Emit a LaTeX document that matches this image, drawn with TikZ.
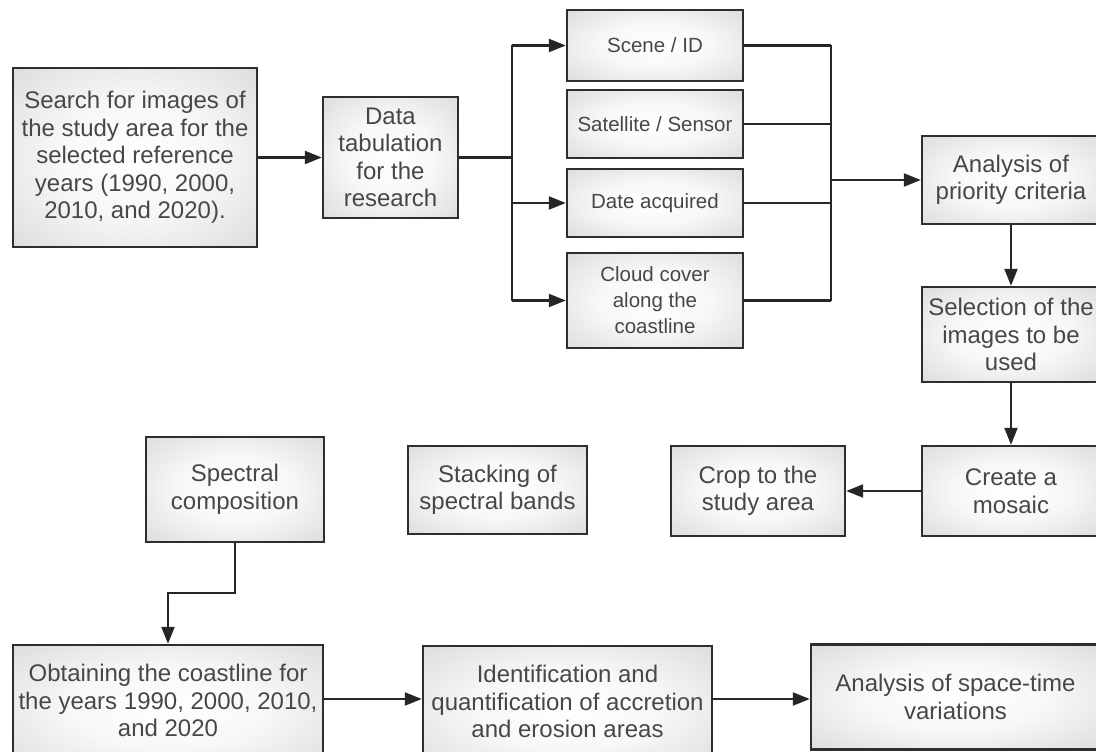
\documentclass[tikz,border=0pt]{standalone}
\usepackage{fontspec}
\setmainfont{Liberation Sans}
\usetikzlibrary{arrows.meta}
\pgfdeclareradialshading{boxshade}{\pgfpoint{0bp}{0bp}}{color(0bp)=(white); color(16bp)=(black!3); color(50bp)=(black!21); color(71bp)=(black!26)}
\tikzset{
  box/.style={draw=black!82, line width=2.4pt, shading=boxshade, align=center,
    text=black!72, inner sep=0pt, font=\fontsize{24}{27.5}\selectfont},
  smallbox/.style={box, font=\fontsize{20.5}{26}\selectfont},
  sz/.style 2 args={minimum width=#1pt, minimum height=#2pt},
  conn/.style={draw=black!85, line width=2.2pt},
  arr/.style={conn, -{Triangle[length=17pt,width=13pt]}},
}
\begin{document}
\begin{tikzpicture}[x=1pt,y=-1pt]
\useasboundingbox[fill=white] (0,0) rectangle (1096,752);

% nodes
\node[box, sz={244}{179}] (search) at (135,157.5) {Search for images of\\the study area for the\\selected reference\\years (1990, 2000,\\2010, and 2020).};
\node[box, sz={135}{121}] (data) at (390.5,157.5) {Data\\tabulation\\for the\\research};
\node[smallbox, sz={176}{71}] (scene) at (655,45.5) {Scene / ID};
\node[smallbox, sz={176}{68}] (sat) at (655,124) {Satellite / Sensor};
\node[smallbox, sz={176}{68}] (date) at (655,203) {Date acquired};
\node[smallbox, sz={176}{95}] (cloud) at (655,300.5) {Cloud cover\\along the\\coastline};
\node[box, sz={178}{88}] (prio) at (1011,180) {Analysis of\\priority criteria};
\node[box, sz={178}{95}] (sel) at (1011,334.5) {Selection of the\\images to be\\used};
\node[box, sz={178}{90}] (mosaic) at (1011,491) {Create a\\mosaic};
\node[box, sz={174}{90}] (crop) at (758,491) {Crop to the\\study area};
\node[box, sz={179}{88}] (stack) at (497.5,490) {Stacking of\\spectral bands};
\node[box, sz={178}{105}] (spec) at (235,489.5) {Spectral\\composition};
\node[box, sz={310}{126}] (obt) at (168,708) {Obtaining the coastline for\\the years 1990, 2000, 2010,\\and 2020\\[-12.5pt]\mbox{}};
\node[box, sz={289}{126}] (ident) at (567.5,709) {Identification and\\quantification of accretion\\and erosion areas\\[-12.5pt]\mbox{}};
\node[box, sz={289}{105}] (stv) at (955.5,697) {Analysis of space-time\\variations};

% junctions
\coordinate (j1) at (512,157.5);
\coordinate (j2) at (831,180);
\coordinate (e1) at (235,593);
\coordinate (e2) at (168,593);
\coordinate (r1) at (0,699);

% connectors
\draw[arr] (search.east) -- (data.west);
\draw[conn] (data.east) -- (j1);
\draw[conn] (j1 |- scene.west) -- (j1 |- cloud.west);
\draw[arr] (j1 |- scene.west) -- (scene.west);
\draw[arr] (j1 |- date.west) -- (date.west);
\draw[arr] (j1 |- cloud.west) -- (cloud.west);

\draw[conn] (scene.east) -- (j2 |- scene.east);
\draw[conn] (sat.east) -- (j2 |- sat.east);
\draw[conn] (date.east) -- (j2 |- date.east);
\draw[conn] (cloud.east) -- (j2 |- cloud.east);
\draw[conn] (j2 |- scene.east) -- (j2 |- cloud.east);
\draw[arr] (j2) -- (prio.west);

\draw[arr] (prio.south) -- (sel.north);
\draw[arr] (sel.south) -- (mosaic.north);
\draw[arr] (mosaic.west) -- (crop.east);

\draw[arr] (spec.south) -- (e1) -- (e2) -- (obt.north);
\draw[arr] (obt.east |- r1) -- (ident.west |- r1);
\draw[arr] (ident.east |- r1) -- (stv.west |- r1);
\end{tikzpicture}
\end{document}
